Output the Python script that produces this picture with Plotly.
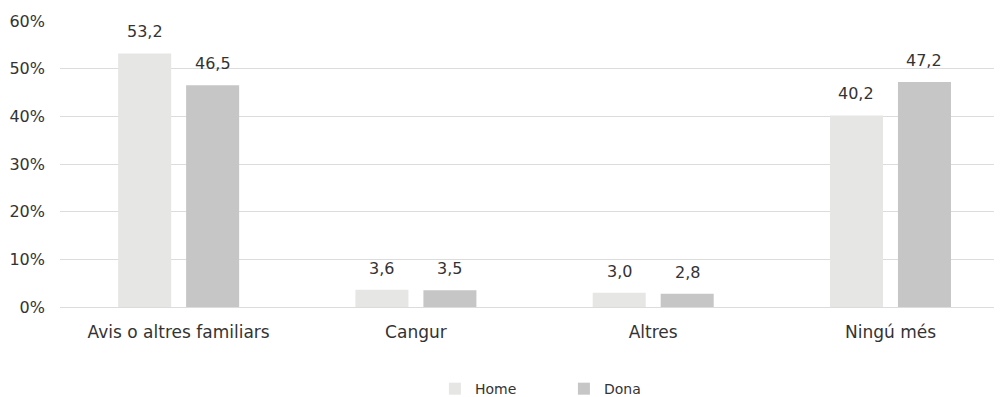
import plotly.graph_objects as go

categories = ["Avis o altres familiars", "Cangur", "Altres", "Ningú més"]
home = [53.2, 3.6, 3.0, 40.2]
dona = [46.5, 3.5, 2.8, 47.2]
y_ticks = [0, 10, 20, 30, 40, 50, 60]
y_tick_text = [f"{v}%" for v in y_ticks]

font_family = "DejaVu Sans, Arial, sans-serif"
text_color = "#333333"
grid_color = "#dcdcdc"

fig = go.Figure()
fig.add_trace(go.Bar(x=categories, y=home, name="Home",
                     marker=dict(color="#e6e6e5", line=dict(width=0))))
fig.add_trace(go.Bar(x=categories, y=dona, name="Dona",
                     marker=dict(color="#c6c6c6", line=dict(width=0))))

# value labels above each bar (comma decimals)
for series, shift in ((home, -34), (dona, 34)):
    for cat, val in zip(categories, series):
        fig.add_annotation(x=cat, y=val, xref="x", yref="y",
                           text=f"{val:.1f}".replace(".", ","),
                           showarrow=False, yanchor="bottom",
                           xshift=shift, yshift=10,
                           font=dict(size=16, color=text_color))

# page body adds an 8px offset, so the figure is a bit smaller than the window
fig.update_layout(
    width=994, height=389,
    margin=dict(l=52, r=0, t=13, b=90, autoexpand=False),
    paper_bgcolor="white", plot_bgcolor="white",
    font=dict(family=font_family, size=16, color=text_color),
    barmode="group", bargap=0.427, bargroupgap=0.22,
    showlegend=True,
    legend=dict(orientation="h", x=0.398, xanchor="left", y=-0.287, yanchor="middle",
                font=dict(size=14, color=text_color), entrywidth=84),
)
fig.update_yaxes(range=[0, 60], tickvals=y_ticks, ticktext=y_tick_text,
                 showgrid=True, gridcolor=grid_color, gridwidth=1,
                 zeroline=False, showline=False, ticklabelstandoff=14,
                 tickfont=dict(size=16, color=text_color))
fig.update_xaxes(range=[-0.5, 3.47], showline=True, linecolor=grid_color,
                 ticks="", ticklabelstandoff=10,
                 tickfont=dict(size=17, color=text_color))

fig.write_html("out.html")
